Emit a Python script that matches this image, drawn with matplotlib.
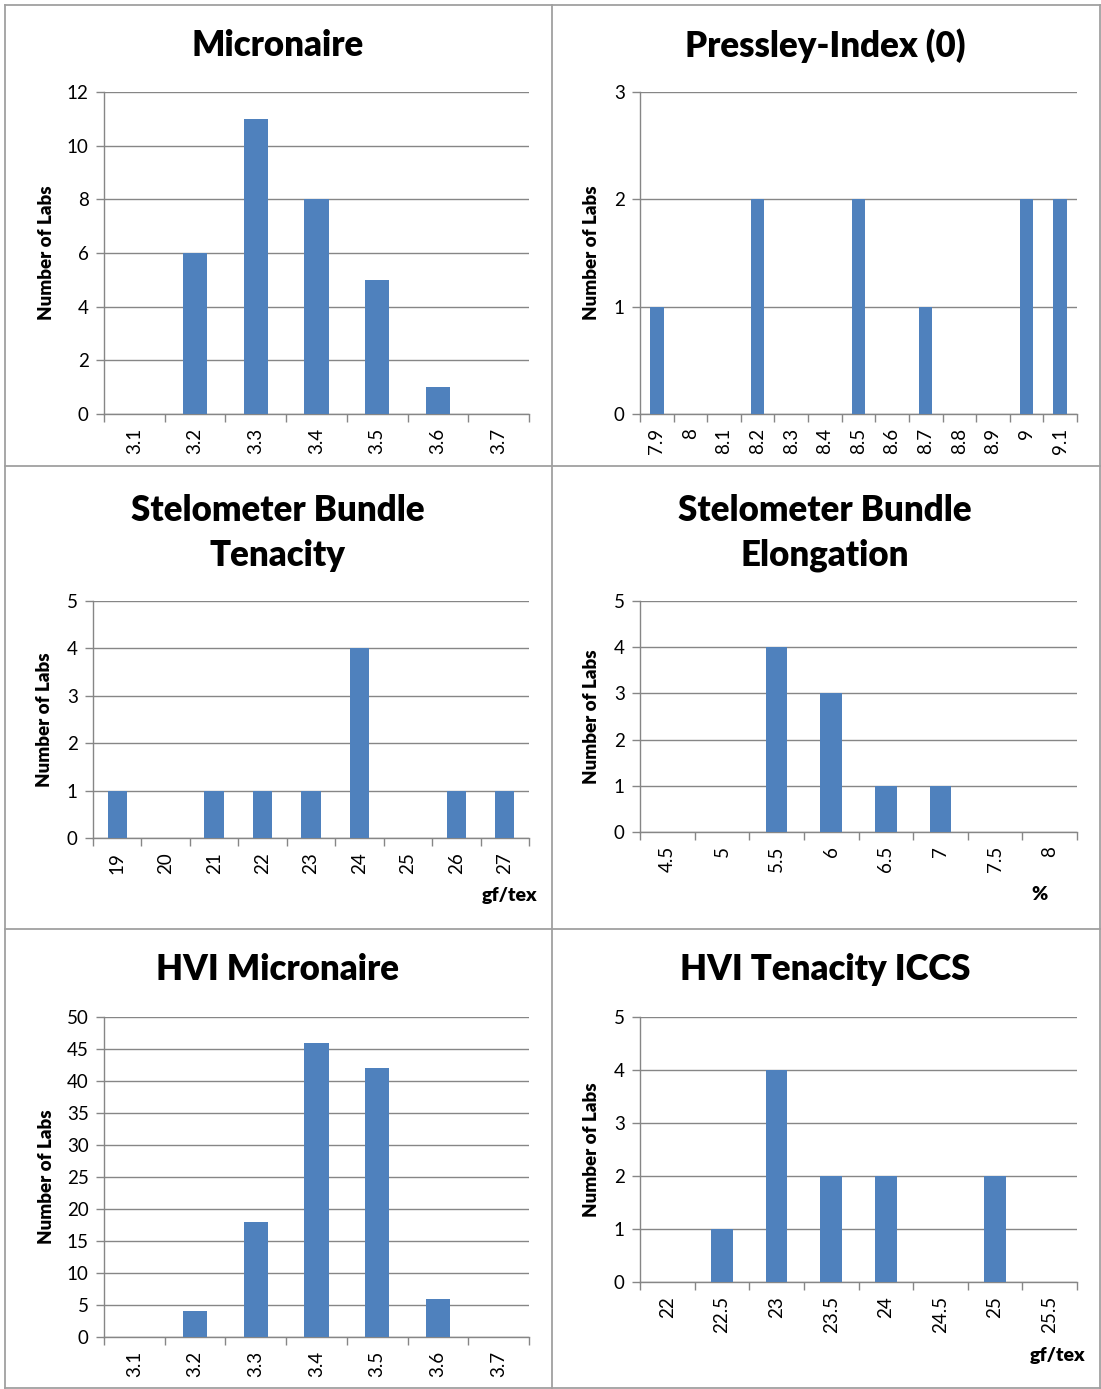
import matplotlib
matplotlib.use("Agg")
import matplotlib.pyplot as plt
from matplotlib.lines import Line2D
from matplotlib.ticker import FixedLocator, NullFormatter

plt.rcParams['font.family'] = ['Lato', 'DejaVu Sans']

W, H = 1101, 1389
BAR = '#4F81BD'
GRID = '#868686'

# cotton test results, labs per value class
micronaire_x = ['3.1', '3.2', '3.3', '3.4', '3.5', '3.6', '3.7']
micronaire_n = [0, 6, 11, 8, 5, 1, 0]

pressley_x = ['7.9', '8', '8.1', '8.2', '8.3', '8.4', '8.5', '8.6', '8.7', '8.8', '8.9', '9', '9.1']
pressley_n = [1, 0, 0, 2, 0, 0, 2, 0, 1, 0, 0, 2, 2]

stelo_ten_x = ['19', '20', '21', '22', '23', '24', '25', '26', '27']
stelo_ten_n = [1, 0, 1, 1, 1, 4, 0, 1, 1]

stelo_elo_x = ['4.5', '5', '5.5', '6', '6.5', '7', '7.5', '8']
stelo_elo_n = [0, 0, 4, 3, 1, 1, 0, 0]

hvi_mic_x = ['3.1', '3.2', '3.3', '3.4', '3.5', '3.6', '3.7']
hvi_mic_n = [0, 4, 18, 46, 42, 6, 0]

hvi_ten_x = ['22', '22.5', '23', '23.5', '24', '24.5', '25', '25.5']
hvi_ten_n = [0, 1, 4, 2, 2, 0, 2, 0]


def px_box(left, top, right, bottom):
    return [left / W, 1 - bottom / H, (right - left) / W, (bottom - top) / H]


def panel(fig, box, cats, counts, ymax, ystep, title, title_xy, ylab_x, unit=None, unit_xy=None):
    ax = fig.add_axes(px_box(*box))
    n = len(cats)
    pos = list(range(n))
    ax.bar(pos, counts, width=0.4, color=BAR, zorder=3)
    ax.set_xlim(-0.5, n - 0.5)
    ax.set_ylim(0, ymax)
    ax.set_yticks(list(range(0, ymax + 1, ystep)))
    ax.tick_params(axis='y', labelsize=13.5, length=6, width=1, color=GRID, pad=5)
    ax.yaxis.grid(True, color=GRID, linewidth=1)
    ax.set_axisbelow(True)
    # ticks on category boundaries, labels at category centres
    ax.xaxis.set_major_locator(FixedLocator([i - 0.5 for i in range(n + 1)]))
    ax.xaxis.set_major_formatter(NullFormatter())
    ax.xaxis.set_minor_locator(FixedLocator(pos))
    ax.set_xticklabels(cats, minor=True, rotation=90, va='top', ha='center', fontsize=13.5)
    ax.tick_params(axis='x', which='major', length=6, width=1, color=GRID)
    ax.tick_params(axis='x', which='minor', length=0, pad=10)
    for s in ['top', 'right']:
        ax.spines[s].set_visible(False)
    for s in ['left', 'bottom']:
        ax.spines[s].set_color(GRID)
        ax.spines[s].set_linewidth(1)
    fig.text(title_xy[0] / W, 1 - title_xy[1] / H, title, ha='center', va='center',
             fontsize=25, fontweight='heavy', linespacing=1.45)
    fig.text(ylab_x / W, 1 - (box[1] + box[3]) / 2 / H, 'Number of Labs', rotation=90,
             ha='center', va='center', fontsize=13.5, fontweight='heavy')
    if unit:
        fig.text(unit_xy[0] / W, 1 - unit_xy[1] / H, unit, ha='center', va='center',
                 fontsize=14, fontweight='heavy')
    return ax


fig = plt.figure(figsize=(W / 100, H / 100), dpi=100)

panel(fig, (104, 92, 529, 414), micronaire_x, micronaire_n, 12, 2,
      'Micronaire', (278, 46), 46)
panel(fig, (640, 92, 1077, 414), pressley_x, pressley_n, 3, 1,
      'Pressley-Index (0)', (825, 46), 592)
panel(fig, (93, 601, 529, 838), stelo_ten_x, stelo_ten_n, 5, 1,
      'Stelometer Bundle\nTenacity', (278, 533), 45, 'gf/tex', (510, 895))
panel(fig, (640, 601, 1077, 832), stelo_elo_x, stelo_elo_n, 5, 1,
      'Stelometer Bundle\nElongation', (825, 533), 592, '%', (1039, 895))
panel(fig, (104, 1017, 529, 1337), hvi_mic_x, hvi_mic_n, 50, 5,
      'HVI Micronaire', (278, 970), 46)
panel(fig, (640, 1017, 1077, 1282), hvi_ten_x, hvi_ten_n, 5, 1,
      'HVI Tenacity ICCS', (825, 970), 592, 'gf/tex', (1057, 1356))

# frame lines around the six panels
BORDER = '#a0a0a0'
for x in (5, 552, 1100):
    fig.add_artist(Line2D([x / W, x / W], [1 - 5 / H, 1 - 1388 / H], color=BORDER, lw=1.3))
for y in (5, 466, 929, 1388):
    fig.add_artist(Line2D([5 / W, 1100 / W], [1 - y / H, 1 - y / H], color=BORDER, lw=1.3))

fig.savefig('out.png', dpi=100)
